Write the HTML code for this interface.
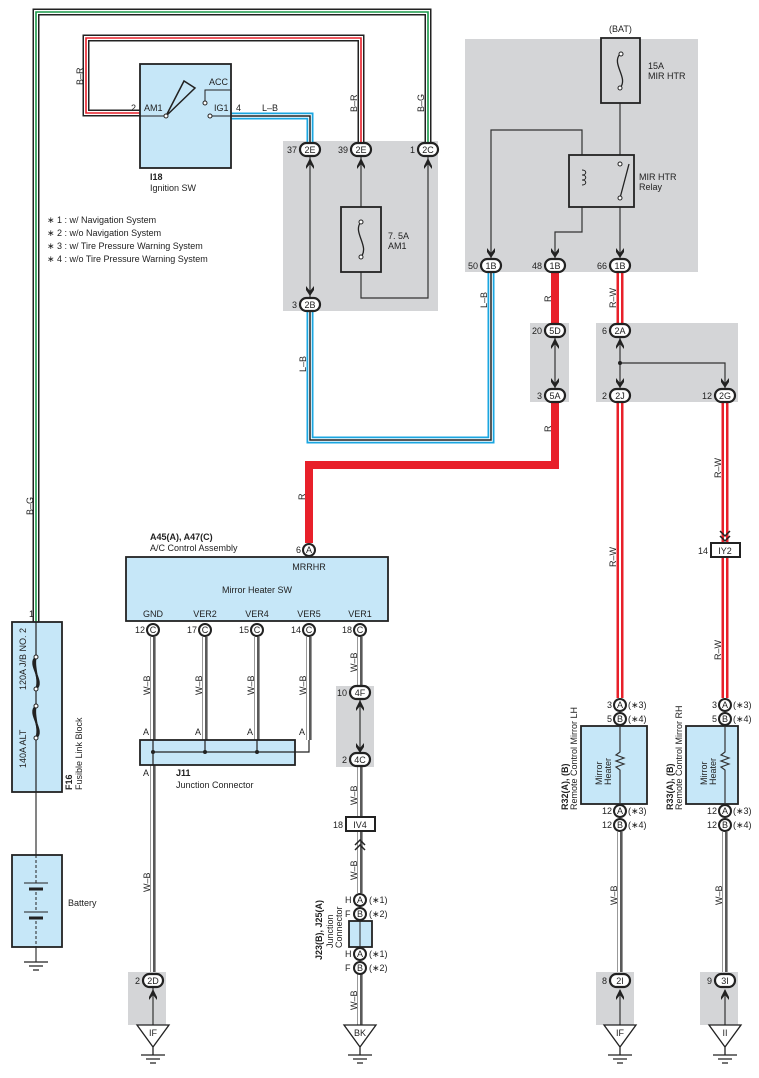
<!DOCTYPE html>
<html><head><meta charset="utf-8"><style>
html,body{margin:0;padding:0;background:#fff}
svg{display:block}
text{font-family:"Liberation Sans",sans-serif;font-size:9px;fill:#222}
.b{font-weight:bold}
</style></head><body>
<svg width="759" height="1078" viewBox="0 0 759 1078" xmlns="http://www.w3.org/2000/svg">
<g fill="#d4d5d7">
<rect x="283" y="141" width="155" height="170"/>
<rect x="465" y="39" width="233" height="233"/>
<rect x="530" y="323" width="39" height="79"/>
<rect x="596" y="323" width="142" height="79"/>
<rect x="336" y="686" width="38" height="81"/>
<rect x="128" y="972" width="38" height="53"/>
<rect x="596" y="972" width="38" height="53"/>
<rect x="700" y="972" width="38" height="53"/>
</g>
<g fill="none" stroke-linejoin="miter">
<path d="M36,622 V12 H428 V142" stroke="#222" stroke-width="7"/>
<path d="M36,622 V12 H428 V142" stroke="#fff" stroke-width="4"/>
<path d="M36,622 V12 H428 V142" stroke="#1a9a4a" stroke-width="1.6"/>
<path d="M140,113 H86 V38 H361 V142" stroke="#222" stroke-width="7"/>
<path d="M140,113 H86 V38 H361 V142" stroke="#fff" stroke-width="4"/>
<path d="M140,113 H86 V38 H361 V142" stroke="#e8202a" stroke-width="1.6"/>
<path d="M231,116 H310 V142" stroke="#1aa6e0" stroke-width="7"/>
<path d="M231,116 H310 V142" stroke="#fff" stroke-width="3.5"/>
<path d="M231,116 H310 V142" stroke="#222" stroke-width="1.5"/>
<path d="M310,311 V440 H491 V272" stroke="#1aa6e0" stroke-width="7"/>
<path d="M310,311 V440 H491 V272" stroke="#fff" stroke-width="3.5"/>
<path d="M310,311 V440 H491 V272" stroke="#222" stroke-width="1.5"/>
<path d="M555,272 V323" stroke="#e8202a" stroke-width="8"/>
<path d="M555,402 V465 H309 V543" stroke="#e8202a" stroke-width="8"/>
<g stroke="#e8202a" stroke-width="7">
<path d="M620,272 V323"/><path d="M620,402 V698"/><path d="M725,402 V543"/><path d="M725,557 V698"/>
</g>
<g stroke="#fff" stroke-width="2">
<path d="M620,272 V323"/><path d="M620,402 V698"/><path d="M725,402 V543"/><path d="M725,557 V698"/>
</g>
<g stroke="#999" stroke-width="6">
<path d="M153,637 V972"/><path d="M205,637 V752"/><path d="M257,637 V752"/><path d="M309,637 V740"/>
<path d="M360,637 V686"/><path d="M360,767 V817"/><path d="M360,831 V893"/><path d="M360,973 V1025"/>
<path d="M620,832 V972"/><path d="M725,832 V972"/>
</g>
<g stroke="#fff" stroke-width="4">
<path d="M153,637 V972"/><path d="M205,637 V752"/><path d="M257,637 V752"/><path d="M309,637 V740"/>
<path d="M360,637 V686"/><path d="M360,767 V817"/><path d="M360,831 V893"/><path d="M360,973 V1025"/>
<path d="M620,832 V972"/><path d="M725,832 V972"/>
</g>
<g stroke="#222" stroke-width="1.5">
<path d="M154,637 V972"/><path d="M206,637 V752"/><path d="M258,637 V752"/><path d="M310,637 V740"/>
<path d="M361,637 V686"/><path d="M361,767 V817"/><path d="M361,831 V893"/><path d="M361,973 V1025"/>
<path d="M621,832 V972"/><path d="M726,832 V972"/>
</g>
<g stroke="#333" stroke-width="1.2">
<path d="M310,156 V298"/><path d="M361,156 V207"/><path d="M361,272 V298 H428 V156"/>
<path d="M620,103 V155"/><path d="M620,207 V258"/>
<path d="M582,155 V130 H491 V258"/><path d="M582,207 V232 H555 V258"/>
<path d="M555,337 V388"/><path d="M620,337 V388"/><path d="M620,363 H725 V388"/>
<path d="M360,699 V753"/>
<path d="M153,987 V1025"/>
<path d="M36,622 V855"/><path d="M36,947 V962"/>
<path d="M620,990 V1025"/><path d="M725,990 V1025"/>
<path d="M620,712 V790"/><path d="M725,712 V790"/>
<path d="M360,906 V960"/>
</g>
</g>
<rect x="140" y="64" width="91" height="104" fill="#c6e7f8" stroke="#222" stroke-width="1.8"/>
<path d="M166,116 L184,81 L195,88 Z" fill="none" stroke="#222" stroke-width="1.5"/>
<circle cx="166" cy="116" r="2" fill="#fff" stroke="#222"/>
<path d="M205,101 V90 H231" fill="none" stroke="#222"/>
<circle cx="205" cy="103" r="2" fill="#fff" stroke="#222"/>
<circle cx="210" cy="116" r="2" fill="#fff" stroke="#222"/>
<path d="M212,116 H231 M140,116 H164" stroke="#222"/>
<text x="209" y="85">ACC</text><text x="144" y="111">AM1</text><text x="131" y="111">2</text>
<text x="214" y="111">IG1</text><text x="236" y="111">4</text><text x="262" y="111">L–B</text>
<text x="150" y="180" class="b">I18</text><text x="150" y="191">Ignition SW</text>
<text x="47" y="223">∗ 1 : w/ Navigation System</text>
<text x="47" y="236">∗ 2 : w/o Navigation System</text>
<text x="47" y="249">∗ 3 : w/ Tire Pressure Warning System</text>
<text x="47" y="262">∗ 4 : w/o Tire Pressure Warning System</text>
<text transform="translate(83,85) rotate(-90)">B–R</text>
<text transform="translate(357,112) rotate(-90)">B–R</text>
<text transform="translate(424,112) rotate(-90)">B–G</text>
<rect x="341" y="207" width="40" height="65" fill="none" stroke="#222" stroke-width="1.8"/>
<path d="M361,222 C352,232 370,246 361,257" fill="none" stroke="#222" stroke-width="1.3"/>
<circle cx="361" cy="222" r="2" fill="#fff" stroke="#222"/><circle cx="361" cy="257" r="2" fill="#fff" stroke="#222"/>
<text x="388" y="239">7. 5A</text><text x="388" y="249">AM1</text>
<rect x="601" y="38" width="39" height="65" fill="none" stroke="#222" stroke-width="1.8"/>
<path d="M620,54 C611,64 629,78 620,88" fill="none" stroke="#222" stroke-width="1.3"/>
<circle cx="621" cy="54" r="2" fill="#fff" stroke="#222"/><circle cx="620" cy="88" r="2" fill="#fff" stroke="#222"/>
<text x="609" y="32">(BAT)</text>
<text x="648" y="69">15A</text><text x="648" y="79">MIR HTR</text>
<rect x="569" y="155" width="65" height="52" fill="none" stroke="#222" stroke-width="1.8"/>
<path d="M582,170 c5,0 5,5 0,5 c5,0 5,5 0,5 c5,0 5,5 0,5" fill="none" stroke="#222"/>
<path d="M620,198 L629,164" stroke="#222" stroke-width="1.3"/>
<circle cx="620" cy="164" r="2" fill="#fff" stroke="#222"/><circle cx="620" cy="198" r="2" fill="#fff" stroke="#222"/>
<text x="639" y="180">MIR HTR</text><text x="639" y="190">Relay</text>
<text transform="translate(487,308) rotate(-90)">L–B</text>
<text transform="translate(551,302) rotate(-90)">R</text>
<text transform="translate(616,308) rotate(-90)">R–W</text>
<text transform="translate(551,432) rotate(-90)">R</text>
<text transform="translate(305,500) rotate(-90)">R</text>
<text transform="translate(721,478) rotate(-90)">R–W</text>
<text transform="translate(616,567) rotate(-90)">R–W</text>
<text transform="translate(721,660) rotate(-90)">R–W</text>
<text transform="translate(306,372) rotate(-90)">L–B</text>
<text transform="translate(33,515) rotate(-90)">B–G</text>
<g fill="#222">
<path id="cu" d="M-4,0 L0,-8 L4,0 L4,3 L0,-2 L-4,3Z" transform="translate(310,166)"/>
<use href="#cu" transform="translate(51,0)"/><use href="#cu" transform="translate(118,0)"/>
<path d="M-4,-6 L0,-1 L4,-6 L4,-2 L0,4 L-4,-2Z" transform="translate(310,292)"/>
<path d="M-4,-6 L0,-1 L4,-6 L4,-2 L0,4 L-4,-2Z" transform="translate(491,254)"/>
<path d="M-4,-6 L0,-1 L4,-6 L4,-2 L0,4 L-4,-2Z" transform="translate(555,254)"/>
<path d="M-4,-6 L0,-1 L4,-6 L4,-2 L0,4 L-4,-2Z" transform="translate(620,254)"/>
<path d="M-4,-6 L0,-1 L4,-6 L4,-2 L0,4 L-4,-2Z" transform="translate(555,384)"/>
<path d="M-4,-6 L0,-1 L4,-6 L4,-2 L0,4 L-4,-2Z" transform="translate(620,384)"/>
<path d="M-4,-6 L0,-1 L4,-6 L4,-2 L0,4 L-4,-2Z" transform="translate(725,384)"/>
<path d="M-4,-6 L0,-1 L4,-6 L4,-2 L0,4 L-4,-2Z" transform="translate(360,749)"/>
<path d="M-4,0 L0,-8 L4,0 L4,3 L0,-2 L-4,3Z" transform="translate(555,346)"/>
<path d="M-4,0 L0,-8 L4,0 L4,3 L0,-2 L-4,3Z" transform="translate(620,346)"/>
<path d="M-4,0 L0,-8 L4,0 L4,3 L0,-2 L-4,3Z" transform="translate(360,708)"/>
<path d="M-4,0 L0,-8 L4,0 L4,3 L0,-2 L-4,3Z" transform="translate(153,997)"/>
<path d="M-4,0 L0,-8 L4,0 L4,3 L0,-2 L-4,3Z" transform="translate(620,997)"/>
<path d="M-4,0 L0,-8 L4,0 L4,3 L0,-2 L-4,3Z" transform="translate(725,997)"/>
<circle cx="620" cy="363" r="2"/>
</g>
<path d="M720,531 l5,5 l5,-5 M720,536 l5,5 l5,-5" fill="none" stroke="#222" stroke-width="1.5"/>
<path d="M355,845 l5,-5 l5,5 M355,850 l5,-5 l5,5" fill="none" stroke="#222" stroke-width="1.5"/>
<g fill="#fff" stroke="#222" stroke-width="2.2">
<rect x="300" y="143" width="20" height="13" rx="6.5"/><rect x="351" y="143" width="20" height="13" rx="6.5"/><rect x="418" y="143" width="20" height="13" rx="6.5"/>
<rect x="300" y="298" width="20" height="13" rx="6.5"/>
<rect x="481" y="259" width="20" height="13" rx="6.5"/><rect x="545" y="259" width="20" height="13" rx="6.5"/><rect x="610" y="259" width="20" height="13" rx="6.5"/>
<rect x="545" y="324" width="20" height="13" rx="6.5"/><rect x="545" y="389" width="20" height="13" rx="6.5"/>
<rect x="610" y="324" width="20" height="13" rx="6.5"/><rect x="610" y="389" width="20" height="13" rx="6.5"/><rect x="715" y="389" width="20" height="13" rx="6.5"/>
<rect x="350" y="686" width="20" height="13" rx="6.5"/><rect x="350" y="753" width="20" height="13" rx="6.5"/>
<rect x="143" y="974" width="20" height="13" rx="6.5"/><rect x="610" y="974" width="20" height="13" rx="6.5"/><rect x="715" y="974" width="20" height="13" rx="6.5"/>
</g>
<g text-anchor="middle">
<text x="310" y="153">2E</text><text x="361" y="153">2E</text><text x="428" y="153">2C</text><text x="310" y="308">2B</text>
<text x="491" y="269">1B</text><text x="555" y="269">1B</text><text x="620" y="269">1B</text>
<text x="555" y="334">5D</text><text x="555" y="399">5A</text><text x="620" y="334">2A</text><text x="620" y="399">2J</text><text x="725" y="399">2G</text>
<text x="360" y="696">4F</text><text x="360" y="763">4C</text>
<text x="153" y="984">2D</text><text x="620" y="984">2I</text><text x="725" y="984">3I</text>
</g>
<g text-anchor="end">
<text x="297" y="153">37</text><text x="348" y="153">39</text><text x="415" y="153">1</text><text x="297" y="308">3</text>
<text x="478" y="269">50</text><text x="542" y="269">48</text><text x="607" y="269">66</text>
<text x="542" y="334">20</text><text x="542" y="399">3</text><text x="607" y="334">6</text><text x="607" y="399">2</text><text x="712" y="399">12</text>
<text x="347" y="696">10</text><text x="347" y="763">2</text>
<text x="140" y="984">2</text><text x="607" y="984">8</text><text x="712" y="984">9</text>
</g>
<text x="150" y="540" class="b">A45(A), A47(C)</text><text x="150" y="551">A/C Control Assembly</text>
<rect x="126" y="557" width="262" height="64" fill="#c6e7f8" stroke="#222" stroke-width="1.8"/>
<g text-anchor="middle">
<text x="309" y="570">MRRHR</text><text x="257" y="593">Mirror Heater SW</text>
<text x="153" y="617">GND</text><text x="205" y="617">VER2</text><text x="257" y="617">VER4</text><text x="309" y="617">VER5</text><text x="360" y="617">VER1</text>
</g>
<g fill="#fff" stroke="#222" stroke-width="2">
<circle cx="309" cy="550" r="6"/>
<circle cx="153" cy="630" r="6"/><circle cx="205" cy="630" r="6"/><circle cx="257" cy="630" r="6"/><circle cx="309" cy="630" r="6"/><circle cx="360" cy="630" r="6"/>
</g>
<g text-anchor="middle" font-size="8">
<text x="309" y="553">A</text><text x="153" y="633">C</text><text x="205" y="633">C</text><text x="257" y="633">C</text><text x="309" y="633">C</text><text x="360" y="633">C</text>
</g>
<g text-anchor="end"><text x="301" y="553">6</text><text x="145" y="633">12</text><text x="197" y="633">17</text><text x="249" y="633">15</text><text x="301" y="633">14</text><text x="352" y="633">18</text></g>
<g>
<text transform="translate(150,695) rotate(-90)">W–B</text><text transform="translate(202,695) rotate(-90)">W–B</text>
<text transform="translate(254,695) rotate(-90)">W–B</text><text transform="translate(306,695) rotate(-90)">W–B</text>
<text transform="translate(357,672) rotate(-90)">W–B</text><text transform="translate(357,805) rotate(-90)">W–B</text>
<text transform="translate(150,892) rotate(-90)">W–B</text><text transform="translate(357,880) rotate(-90)">W–B</text>
<text transform="translate(357,1010) rotate(-90)">W–B</text><text transform="translate(617,905) rotate(-90)">W–B</text>
<text transform="translate(722,905) rotate(-90)">W–B</text>
</g>
<text x="143" y="735">A</text><text x="195" y="735">A</text><text x="247" y="735">A</text><text x="299" y="735">A</text><text x="143" y="776">A</text>
<rect x="140" y="740" width="155" height="25" fill="#c6e7f8" stroke="#222" stroke-width="1.8"/>
<path d="M153,740 V765 M153,752 H309 V740 M205,740 V752 M257,740 V752" fill="none" stroke="#222" stroke-width="1.2"/>
<g fill="#222"><circle cx="153" cy="752" r="2"/><circle cx="205" cy="752" r="2"/><circle cx="257" cy="752" r="2"/></g>
<text x="176" y="776" class="b">J11</text><text x="176" y="788">Junction Connector</text>
<rect x="346" y="817" width="29" height="14" fill="#fff" stroke="#222" stroke-width="2"/>
<text x="360" y="828" text-anchor="middle">IV4</text><text x="343" y="828" text-anchor="end">18</text>
<rect x="711" y="543" width="29" height="14" fill="#fff" stroke="#222" stroke-width="2"/>
<text x="725" y="554" text-anchor="middle">IY2</text><text x="708" y="554" text-anchor="end">14</text>
<g fill="#fff" stroke="#222" stroke-width="2">
<circle cx="360" cy="900" r="6"/><circle cx="360" cy="914" r="6"/><circle cx="360" cy="954" r="6"/><circle cx="360" cy="968" r="6"/>
</g>
<rect x="349" y="921" width="23" height="26" fill="#c6e7f8" stroke="#222" stroke-width="1.8"/>
<path d="M360,921 V947" stroke="#222"/>
<g text-anchor="middle" font-size="8"><text x="360" y="903">A</text><text x="360" y="917">B</text><text x="360" y="957">A</text><text x="360" y="971">B</text></g>
<text x="345" y="903">H</text><text x="345" y="917">F</text><text x="345" y="957">H</text><text x="345" y="971">F</text>
<text x="369" y="903">(∗1)</text><text x="369" y="917">(∗2)</text><text x="369" y="957">(∗1)</text><text x="369" y="971">(∗2)</text>
<text transform="translate(322,960) rotate(-90)" class="b">J23(B), J25(A)</text>
<text transform="translate(333,948) rotate(-90)">Junction</text><text transform="translate(342,948) rotate(-90)">Connector</text>
<g fill="#fff" stroke="#222" stroke-width="2">
<circle cx="620" cy="705" r="6"/><circle cx="620" cy="719" r="6"/><circle cx="620" cy="811" r="6"/><circle cx="620" cy="825" r="6"/>
<circle cx="725" cy="705" r="6"/><circle cx="725" cy="719" r="6"/><circle cx="725" cy="811" r="6"/><circle cx="725" cy="825" r="6"/>
</g>
<rect x="581" y="726" width="66" height="78" fill="#c6e7f8" stroke="#222" stroke-width="1.8"/>
<rect x="686" y="726" width="52" height="78" fill="#c6e7f8" stroke="#222" stroke-width="1.8"/>
<path d="M620,726 V752 l-4,3 8,3 -8,3 8,3 -8,3 4,3 V804 M725,726 V752 l-4,3 8,3 -8,3 8,3 -8,3 4,3 V804" fill="none" stroke="#333" stroke-width="1.2"/>
<g text-anchor="middle" font-size="8">
<text x="620" y="708">A</text><text x="620" y="722">B</text><text x="620" y="814">A</text><text x="620" y="828">B</text>
<text x="725" y="708">A</text><text x="725" y="722">B</text><text x="725" y="814">A</text><text x="725" y="828">B</text>
</g>
<g text-anchor="end"><text x="612" y="708">3</text><text x="612" y="722">5</text><text x="612" y="814">12</text><text x="612" y="828">12</text>
<text x="717" y="708">3</text><text x="717" y="722">5</text><text x="717" y="814">12</text><text x="717" y="828">12</text></g>
<g><text x="628" y="708">(∗3)</text><text x="628" y="722">(∗4)</text><text x="628" y="814">(∗3)</text><text x="628" y="828">(∗4)</text>
<text x="733" y="708">(∗3)</text><text x="733" y="722">(∗4)</text><text x="733" y="814">(∗3)</text><text x="733" y="828">(∗4)</text></g>
<text transform="translate(602,785) rotate(-90)">Mirror</text><text transform="translate(611,785) rotate(-90)">Heater</text>
<text transform="translate(707,785) rotate(-90)">Mirror</text><text transform="translate(716,785) rotate(-90)">Heater</text>
<text transform="translate(568,810) rotate(-90)" class="b">R32(A), (B)</text><text transform="translate(577,810) rotate(-90)">Remote Control Mirror LH</text>
<text transform="translate(673,810) rotate(-90)" class="b">R33(A), (B)</text><text transform="translate(682,810) rotate(-90)">Remote Control Mirror RH</text>
<text x="29" y="617">1</text>
<rect x="12" y="622" width="50" height="170" fill="#c6e7f8" stroke="#222" stroke-width="1.8"/>
<path d="M36,622 V656 M36,690 V705 M36,739 V792" stroke="#222" stroke-width="1.2"/>
<g fill="none" stroke="#222" stroke-width="1.8">
<path d="M36,657 C26,664 46,682 36,689"/><path d="M36,657 C30,664 42,682 36,689"/><path d="M36,657 C33,666 40,680 36,689"/>
<path d="M36,706 C26,713 46,731 36,738"/><path d="M36,706 C30,713 42,731 36,738"/><path d="M36,706 C33,715 40,729 36,738"/>
</g>
<g fill="#fff" stroke="#222" stroke-width="1"><circle cx="36" cy="657" r="2"/><circle cx="36" cy="689" r="2"/><circle cx="36" cy="706" r="2"/><circle cx="36" cy="738" r="2"/></g>
<text transform="translate(26,690) rotate(-90)">120A J/B NO. 2</text>
<text transform="translate(26,768) rotate(-90)">140A ALT</text>
<text transform="translate(72,790) rotate(-90)" class="b">F16</text><text transform="translate(82,790) rotate(-90)">Fusible Link Block</text>
<rect x="12" y="855" width="50" height="92" fill="#c6e7f8" stroke="#222" stroke-width="1.8"/>
<path d="M24,883 H48 M24,912 H48" stroke="#222"/>
<path d="M29,889 H43 M29,918 H43" stroke="#222" stroke-width="3"/>
<path d="M36,855 V883 M36,892 V910 M36,921 V947" stroke="#222" stroke-dasharray="3 2"/>
<text x="68" y="906">Battery</text>
<g fill="none" stroke="#222" stroke-width="1.3">
<path d="M24,962 H48 M29,966 H43 M33,970 H39"/>
<path d="M137,1025 H169 L153,1047 Z M153,1047 V1055 M141,1055 H165 M146,1059 H160 M150,1063 H156"/>
<path d="M344,1025 H376 L360,1047 Z M360,1047 V1055 M348,1055 H372 M353,1059 H367 M357,1063 H363"/>
<path d="M604,1025 H636 L620,1047 Z M620,1047 V1055 M608,1055 H632 M613,1059 H627 M617,1063 H623"/>
<path d="M709,1025 H741 L725,1047 Z M725,1047 V1055 M713,1055 H737 M718,1059 H732 M722,1063 H728"/>
</g>
<g text-anchor="middle"><text x="153" y="1036">IF</text><text x="360" y="1036">BK</text><text x="620" y="1036">IF</text><text x="725" y="1036">II</text></g>
</svg>
</body></html>
